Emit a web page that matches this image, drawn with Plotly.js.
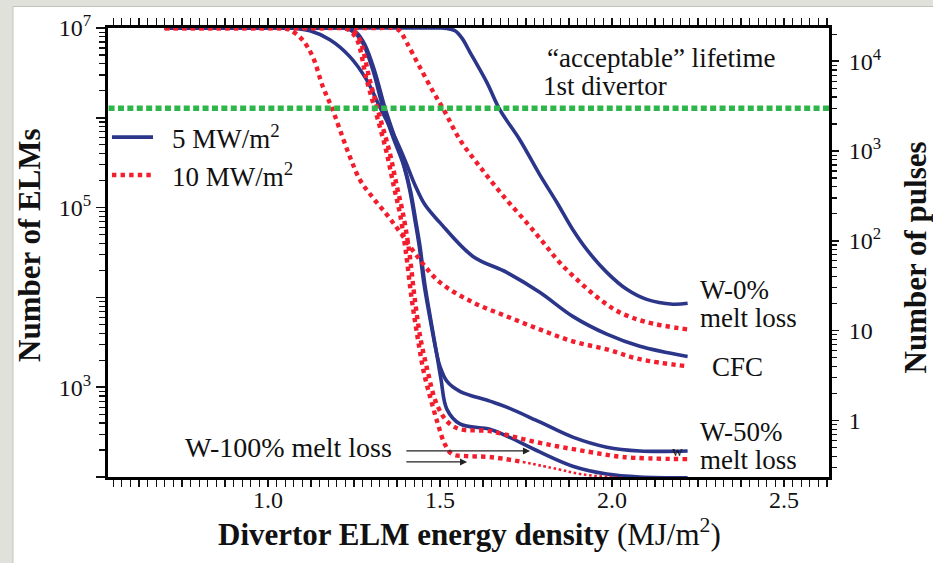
<!DOCTYPE html>
<html>
<head>
<meta charset="utf-8">
<script src="https://cdn.plot.ly/plotly-3.0.1.min.js"></script>
<style>
  html, body { margin: 0; padding: 0; background: #e1e1dc; }
  #chart { width: 933px; height: 563px; }
</style>
</head>
<body>
<div id="chart"></div>
<script>
// Divertor ELM energy density (MJ/m^2) and number of ELMs to reach the lifetime limit.
// 5 MW/m^2 steady heat load
const w0_5_x  = [0.70, 1.49, 1.52, 1.544, 1.564, 1.587, 1.637, 1.674, 1.732, 1.79, 1.84, 1.886, 1.927, 1.985, 2.043, 2.101, 2.177, 2.22];
const w0_5_y  = [1e7, 1e7, 9.9e6, 9.3e6, 7.7e6, 5.4e6, 2.45e6, 1.23e6, 5.7e5, 2.33e5, 1.14e5, 5.7e4, 3.4e4, 1.9e4, 1.23e4, 9.5e3, 8.4e3, 8.6e3];
const cfc_5_x = [0.70, 1.00, 1.064, 1.122, 1.18, 1.238, 1.287, 1.325, 1.363, 1.398, 1.427, 1.456, 1.50, 1.596, 1.694, 1.79, 1.886, 1.985, 2.081, 2.22];
const cfc_5_y = [1e7, 1e7, 1e7, 9.3e6, 7.4e6, 4.8e6, 2.64e6, 1.32e6, 6.8e5, 3.4e5, 1.8e5, 1.08e5, 6.8e4, 2.86e4, 1.9e4, 1.14e4, 6.15e3, 3.9e3, 2.86e3, 2.2e3];
const w50_5_x = [0.70, 1.16, 1.224, 1.253, 1.276, 1.305, 1.334, 1.363, 1.392, 1.412, 1.427, 1.439, 1.453, 1.47, 1.488, 1.50, 1.52, 1.558, 1.645, 1.694, 1.79, 1.886, 1.985, 2.081, 2.22];
const w50_5_y = [1e7, 1e7, 1e7, 8.8e6, 6.8e6, 3.4e6, 1.32e6, 6.15e5, 3.16e5, 1.58e5, 7.4e4, 3.9e4, 1.47e4, 6.15e3, 2.64e3, 1.71e3, 1.17e3, 900, 700, 600, 410, 278, 215, 195, 195];
const w100_5_x = [0.70, 1.17, 1.23, 1.259, 1.282, 1.311, 1.34, 1.369, 1.395, 1.415, 1.43, 1.442, 1.456, 1.473, 1.491, 1.503, 1.52, 1.558, 1.645, 1.694, 1.79, 1.886, 1.985, 2.081, 2.22];
const w100_5_y = [1e7, 1e7, 1e7, 8.8e6, 6.5e6, 3.24e6, 1.29e6, 6.0e5, 3.0e5, 1.5e5, 7.0e4, 3.7e4, 1.4e4, 5.7e3, 2.3e3, 1.23e3, 570, 390, 340, 286, 190, 132, 108, 100, 98];

// 10 MW/m^2 steady heat load
const w0_10_x  = [0.70, 1.32, 1.366, 1.383, 1.404, 1.441, 1.482, 1.511, 1.558, 1.616, 1.686, 1.752, 1.80, 1.848, 1.907, 1.965, 2.023, 2.101, 2.22];
const w0_10_y  = [1e7, 1e7, 1e7, 9.3e6, 6.8e6, 3.7e6, 1.9e6, 1.23e6, 5.7e5, 2.86e5, 1.32e5, 6.8e4, 4.1e4, 2.45e4, 1.47e4, 9.5e3, 6.8e3, 5.3e3, 4.4e3];
const cfc_10_x = [0.70, 0.98, 1.035, 1.064, 1.10, 1.13, 1.16, 1.186, 1.209, 1.238, 1.267, 1.305, 1.345, 1.383, 1.441, 1.50, 1.596, 1.694, 1.79, 1.886, 1.985, 2.081, 2.22];
const cfc_10_y = [1e7, 1e7, 1e7, 9.5e6, 7.4e6, 4.8e6, 2.2e6, 1.29e6, 7.4e5, 3.7e5, 2.05e5, 1.29e5, 8.4e4, 5.4e4, 2.64e4, 1.47e4, 8.8e3, 6.15e3, 4.4e3, 3.24e3, 2.64e3, 2.05e3, 1.71e3];
const w50_10_x = [0.70, 1.16, 1.224, 1.247, 1.267, 1.296, 1.325, 1.354, 1.375, 1.392, 1.41, 1.427, 1.444, 1.465, 1.485, 1.508, 1.529, 1.558, 1.645, 1.741, 1.84, 1.936, 2.032, 2.22];
const w50_10_y = [1e7, 1e7, 1e7, 9.3e6, 7.4e6, 2.64e6, 1.03e6, 4.1e5, 1.71e5, 8.8e4, 3.4e4, 9.5e3, 3.4e3, 1.47e3, 740, 480, 390, 340, 324, 264, 220, 190, 167, 158];
const w100_10_x = [0.70, 1.15, 1.215, 1.238, 1.259, 1.287, 1.317, 1.345, 1.366, 1.383, 1.40, 1.418, 1.436, 1.453, 1.473, 1.494, 1.514, 1.535, 1.578, 1.645, 1.741, 1.84, 1.907, 1.99, 2.08];
const w100_10_y = [1e7, 1e7, 1e7, 9.3e6, 7.4e6, 2.64e6, 1.03e6, 4.1e5, 1.71e5, 8.8e4, 3.4e4, 9.5e3, 3.4e3, 1.47e3, 740, 390, 233, 180, 171, 167, 147, 123, 108, 100, 95];

// "acceptable" lifetime of the first divertor, in pulses (right axis)
const acceptablePulses = 3000;
const acceptableSpan = [0.4, 2.8];

// W-100% melt loss pointer arrows (x from tail to head, y in ELMs)
const arrowTailX = [1.398, 1.398];
const arrowHeadX = [1.762, 1.579];
const arrowY = [195, 147];

// Axis ticks
const xTickVals = [0.75, 1.0, 1.25, 1.5, 1.75, 2.0, 2.25, 2.5];
const xTickText = ['', '1.0', '', '1.5', '', '2.0', '', '2.5'];
const elmTickVals = [1e2, 1e3, 1e4, 1e5, 1e6, 1e7];
const elmTickText = ['', '10<sup>3</sup>', '', '10<sup>5</sup>', '', '10<sup>7</sup>'];
const pulseTickVals = [1, 10, 100, 1000, 10000];
const pulseTickText = ['1', '10', '10<sup>2</sup>', '10<sup>3</sup>', '10<sup>4</sup>'];

const BLUE = '#2b3589';
const RED = '#f21d2d';
const GREEN = '#2fb64b';
const SERIF = 'Liberation Serif';

function minorLog(lo, hi) {
  const v = [];
  for (let d = lo; d <= hi; d++) {
    for (let k = 2; k <= 9; k++) v.push(k * Math.pow(10, d));
  }
  return v;
}

function blue(x, y) {
  return { x: x, y: y, type: 'scatter', mode: 'lines', showlegend: false, hoverinfo: 'skip',
           line: { color: BLUE, width: 3.6, shape: 'spline', smoothing: 1 } };
}
function red(x, y, w, dash) {
  return { x: x, y: y, type: 'scatter', mode: 'lines', showlegend: false, hoverinfo: 'skip',
           line: { color: RED, width: w || 4.4, dash: dash || '4.4px,4.2px', shape: 'spline', smoothing: 1 } };
}

// the W-100% 10 MW/m^2 tail is drawn with finer dots
const tailStart = w100_10_x.indexOf(1.741);

const traces = [
  blue(w0_5_x, w0_5_y),
  blue(cfc_5_x, cfc_5_y),
  blue(w50_5_x, w50_5_y),
  blue(w100_5_x, w100_5_y),
  red(w0_10_x, w0_10_y),
  red(cfc_10_x, cfc_10_y),
  red(w50_10_x, w50_10_y),
  red(w100_10_x.slice(0, tailStart + 1), w100_10_y.slice(0, tailStart + 1)),
  red(w100_10_x.slice(tailStart), w100_10_y.slice(tailStart), 2.6, '2.6px,2.6px'),
  { x: acceptableSpan, y: [acceptablePulses, acceptablePulses], xaxis: 'x', yaxis: 'y2',
    type: 'scatter', mode: 'lines', showlegend: false, hoverinfo: 'skip',
    line: { color: GREEN, width: 5.5, dash: '6px,3.4px' } }
];

function label(text, px, py, anchor, size) {
  return { text: text, xref: 'paper', yref: 'paper', x: px, y: py, showarrow: false,
           xanchor: anchor || 'left', yanchor: 'middle',
           font: { family: SERIF, size: size || 27, color: '#111' } };
}

const annotations = [
  label('\u201cacceptable\u201d lifetime', 0.767, 0.933, 'center'),
  label('1st divertor', 0.690, 0.871, 'center'),
  label('W-0%', 0.818, 0.4165),
  label('melt loss', 0.818, 0.354),
  label('CFC', 0.835, 0.245),
  label('W-50%', 0.818, 0.100),
  label('melt loss', 0.818, 0.038),
  label('W-100% melt loss', 0.397, 0.066, 'right', 28),
  label('w', 0.790, 0.057, 'center', 15),
  label('5 MW/m<sup>2</sup>', 0.086, 0.757),
  label('10 MW/m<sup>2</sup>', 0.086, 0.6726),
  { text: '<b>Number of ELMs</b>', xref: 'paper', yref: 'paper', x: -0.108, y: 0.517,
    textangle: -90, showarrow: false, xanchor: 'center', yanchor: 'middle',
    font: { family: SERIF, size: 31, color: '#111' } },
  { text: '<b>Number of pulses</b>', xref: 'paper', yref: 'paper', x: 1.12, y: 0.488,
    textangle: -90, showarrow: false, xanchor: 'center', yanchor: 'middle',
    font: { family: SERIF, size: 31, color: '#111' } },
  { text: '<b>Divertor ELM energy density</b> (MJ/m<sup>2</sup>)', xref: 'paper', yref: 'paper',
    x: 0.502, y: -0.1225, showarrow: false, xanchor: 'center', yanchor: 'middle',
    font: { family: SERIF, size: 31, color: '#111' } }
];

for (let i = 0; i < arrowHeadX.length; i++) {
  annotations.push({
    text: '', x: arrowHeadX[i], y: Math.log10(arrowY[i]), xref: 'x', yref: 'y',
    ax: arrowTailX[i], ay: Math.log10(arrowY[i]), axref: 'x', ayref: 'y',
    showarrow: true, arrowhead: 2, arrowsize: 1.1, arrowwidth: 1.3, arrowcolor: '#222'
  });
}

const shapes = [
  // white slide panel
  { type: 'rect', xref: 'paper', yref: 'paper', x0: -0.1318, x1: 1.16, y0: -0.21, y1: 1.0479,
    fillcolor: '#ffffff', line: { color: '#c2c2bc', width: 1 }, layer: 'below' },
  // legend samples
  { type: 'line', xref: 'paper', yref: 'paper', x0: 0.0055, x1: 0.0624, y0: 0.757, y1: 0.757,
    line: { color: BLUE, width: 3.6 } },
  { type: 'line', xref: 'paper', yref: 'paper', x0: 0.0055, x1: 0.0624, y0: 0.6726, y1: 0.6726,
    line: { color: RED, width: 4.4, dash: '4.4px,4.2px' } }
];

const tickFont = { family: SERIF, size: 24, color: '#111' };

const layout = {
  width: 933, height: 563,
  margin: { l: 108, r: 104, t: 28, b: 86, pad: 0 },
  paper_bgcolor: '#e1e1dc',
  plot_bgcolor: '#ffffff',
  showlegend: false,
  font: { family: SERIF, color: '#111' },
  xaxis: {
    type: 'linear', range: [0.535, 2.631],
    tickmode: 'array', tickvals: xTickVals, ticktext: xTickText,
    ticks: 'outside', ticklen: 7, tickwidth: 1.5, tickcolor: '#111',
    ticklabelstandoff: -8,
    minor: { dtick: 0.025, tick0: 0, ticks: 'outside', ticklen: 4, tickwidth: 1.2, tickcolor: '#111' },
    showline: true, linewidth: 3, linecolor: '#000', mirror: 'allticks',
    showgrid: false, zeroline: false, tickfont: tickFont, fixedrange: true
  },
  yaxis: {
    type: 'log', range: [2, 7],
    tickmode: 'array', tickvals: elmTickVals, ticktext: elmTickText,
    ticks: 'outside', ticklen: 9, tickwidth: 1.5, tickcolor: '#111',
    minor: { tickmode: 'array', tickvals: minorLog(2, 6), ticks: 'outside', ticklen: 6, tickwidth: 1.2, tickcolor: '#111' },
    showline: true, linewidth: 3, linecolor: '#000', mirror: false,
    showgrid: false, zeroline: false, tickfont: tickFont, fixedrange: true
  },
  yaxis2: {
    type: 'log', range: [-0.63, 4.37], overlaying: 'y', side: 'right', anchor: 'x',
    tickmode: 'array', tickvals: pulseTickVals, ticktext: pulseTickText,
    ticks: 'outside', ticklen: 7, tickwidth: 1.5, tickcolor: '#111',
    ticklabelstandoff: 5,
    minor: { tickmode: 'array', tickvals: minorLog(-1, 4), ticks: 'outside', ticklen: 5, tickwidth: 1.2, tickcolor: '#111' },
    showline: true, linewidth: 3, linecolor: '#000',
    showgrid: false, zeroline: false, tickfont: tickFont, fixedrange: true
  },
  annotations: annotations,
  shapes: shapes
};

Plotly.newPlot('chart', traces, layout, { staticPlot: true, displayModeBar: false });
</script>
</body>
</html>
